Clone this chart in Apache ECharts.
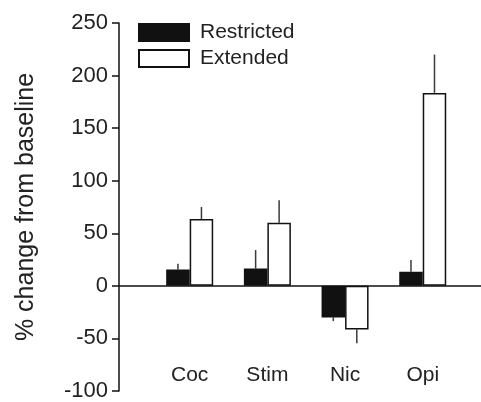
<!DOCTYPE html>
<html>
<head>
<meta charset="utf-8">
<script src="https://cdn.jsdelivr.net/npm/echarts@6/dist/echarts.min.js"></script>
<style>html,body{margin:0;padding:0;background:#fff}#c{width:481px;height:402px}</style>
</head>
<body>
<div id="c"></div>
<script>
var categories = ['Coc', 'Stim', 'Nic', 'Opi'];
var positions = [1, 2, 3, 4];
var restricted = [15.5, 16.5, -30, 13.5];
var restrictedErr = [21, 34, -33.5, 24.5];
var extended = [63.5, 60, -41.5, 183.5];
var extendedErr = [75, 81.5, -54.5, 220];
var yTicks = { min: -100, max: 250, interval: 50 };

var BW = 23.5;
function pairs(vals) { return vals.map(function (v, i) { return [positions[i], v]; }); }
function errData(vals, errs) { return vals.map(function (v, i) { return [positions[i], v, errs[i]]; }); }
function errSeries(vals, errs, shift) {
  return {
    type: 'custom',
    z: 1,
    data: errData(vals, errs),
    renderItem: function (params, api) {
      var p1 = api.coord([api.value(0), api.value(1)]);
      var p2 = api.coord([api.value(0), api.value(2)]);
      var x = p1[0] + shift;
      return { type: 'line', shape: { x1: x, y1: p1[1], x2: x, y2: p2[1] },
        style: { stroke: '#3a3a3a', lineWidth: 1.5 } };
    },
    silent: true
  };
}

var chart = echarts.init(document.getElementById('c'));
chart.setOption({
  animation: false,
  backgroundColor: '#fff',
  textStyle: { fontFamily: 'Liberation Sans, Arial, sans-serif' },
  grid: { left: 119, right: 0, top: 23, bottom: 6, containLabel: false },
  legend: {
    orient: 'vertical', left: 133, top: 17, itemWidth: 50, itemHeight: 17, itemGap: 5,
    icon: 'rect',
    textStyle: { fontSize: 21, color: '#222', padding: [0, 0, 0, 6] },
    data: ['Restricted', 'Extended']
  },
  xAxis: {
    type: 'value', min: 0.09, max: 4.75, position: 'bottom', offset: -26,
    axisLine: { show: false }, axisTick: { show: false }, splitLine: { show: false },
    axisLabel: {
      customValues: positions, margin: 0, fontSize: 21, color: '#222',
      formatter: function (v) { var i = positions.indexOf(v); return i >= 0 ? categories[i] : ''; }
    }
  },
  yAxis: {
    type: 'value', min: yTicks.min, max: yTicks.max, interval: yTicks.interval,
    name: '% change from baseline', nameLocation: 'middle', nameGap: 80,
    nameTextStyle: { fontSize: 25, color: '#222' },
    axisLine: { show: true, lineStyle: { color: '#111', width: 1.5 } },
    axisTick: { show: true, length: 7, lineStyle: { color: '#111', width: 1.5 } },
    axisLabel: { fontSize: 22, color: '#222', margin: 11 },
    splitLine: { show: false }
  },
  series: [
    {
      name: 'Restricted', type: 'bar', barWidth: BW, barGap: '0%', z: 2,
      itemStyle: { color: '#111', borderColor: '#111', borderWidth: 1.5 },
      data: pairs(restricted),
      markLine: {
        silent: true, symbol: 'none', label: { show: false },
        lineStyle: { color: '#111', width: 1.5, type: 'solid' },
        data: [{ yAxis: 0 }]
      }
    },
    {
      name: 'Extended', type: 'bar', barWidth: BW, barGap: '0%', z: 2,
      itemStyle: { color: '#fff', borderColor: '#111', borderWidth: 1.5 },
      data: pairs(extended)
    },
    errSeries(restricted, restrictedErr, -BW / 2),
    errSeries(extended, extendedErr, BW / 2)
  ]
});
</script>
</body>
</html>
